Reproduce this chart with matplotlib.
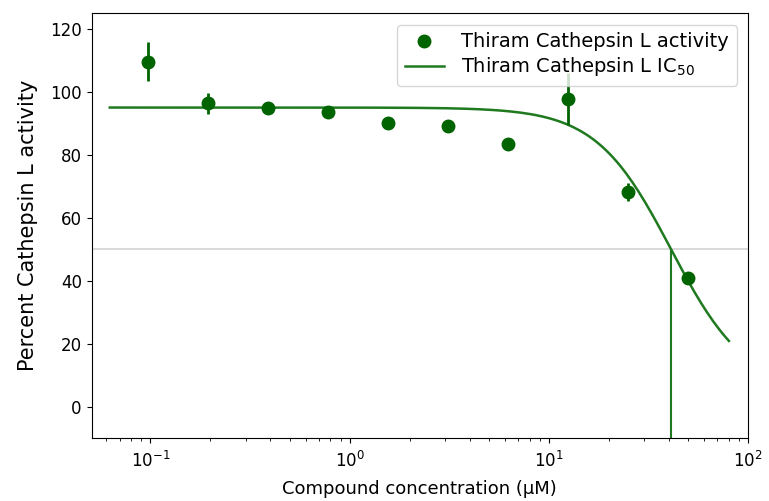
import numpy as np
import matplotlib
matplotlib.use("Agg")
import matplotlib.pyplot as plt

plt.rcParams['font.size'] = 12

# measured activity (percent) vs concentration (uM)
conc = [0.0977, 0.195, 0.39, 0.78, 1.5625, 3.125, 6.25, 12.5, 25, 50]
activity = [109.6, 96.3, 94.9, 93.5, 90.0, 89.1, 83.3, 97.8, 68.2, 40.9]
err = [6.3, 3.3, 1.0, 1.0, 1.0, 1.0, 1.0, 8.3, 2.8, 1.0]

# fitted 4-parameter logistic
top = 95.0
bottom = 5.0
ic50 = 41.0
hill = 2.3

def logistic(x):
    return bottom + (top - bottom) / (1 + (x / ic50) ** hill)

xfit = np.geomspace(0.0625, 80, 200)
yfit = logistic(xfit)

fig = plt.figure(figsize=(7.69, 5.01), dpi=100)
ax = fig.add_axes([0.119, 0.126, 0.854, 0.848])

ax.axhline(50, color='lightgray', lw=1.2, zorder=1)
ax.errorbar(conc, activity, yerr=err, fmt='none', ecolor='darkgreen',
            elinewidth=2, zorder=3)
ax.plot(conc, activity, 'o', color='darkgreen', ms=9,
        label='Thiram Cathepsin L activity', zorder=4)
ax.plot(xfit, yfit, '-', color='#1f7a1f', lw=1.8,
        label='Thiram Cathepsin L IC$_{50}$', zorder=2)
ax.vlines(ic50, -10, 50, color='#1f7a1f', lw=1.5, zorder=2)

ax.set_xscale('log')
ax.set_xlim(0.0506, 100)
ax.set_ylim(-9.85, 125)
ax.set_yticks([0, 20, 40, 60, 80, 100, 120])
ax.tick_params(axis='x', pad=6)
ax.set_xlabel('Compound concentration (μM)', fontsize=13, labelpad=6)
ax.set_ylabel('Percent Cathepsin L activity', fontsize=15, labelpad=9)
ax.legend(loc='upper right', fontsize=14, labelspacing=0.2,
          borderaxespad=0.6, handletextpad=0.9)

fig.savefig('out.png', dpi=100)
